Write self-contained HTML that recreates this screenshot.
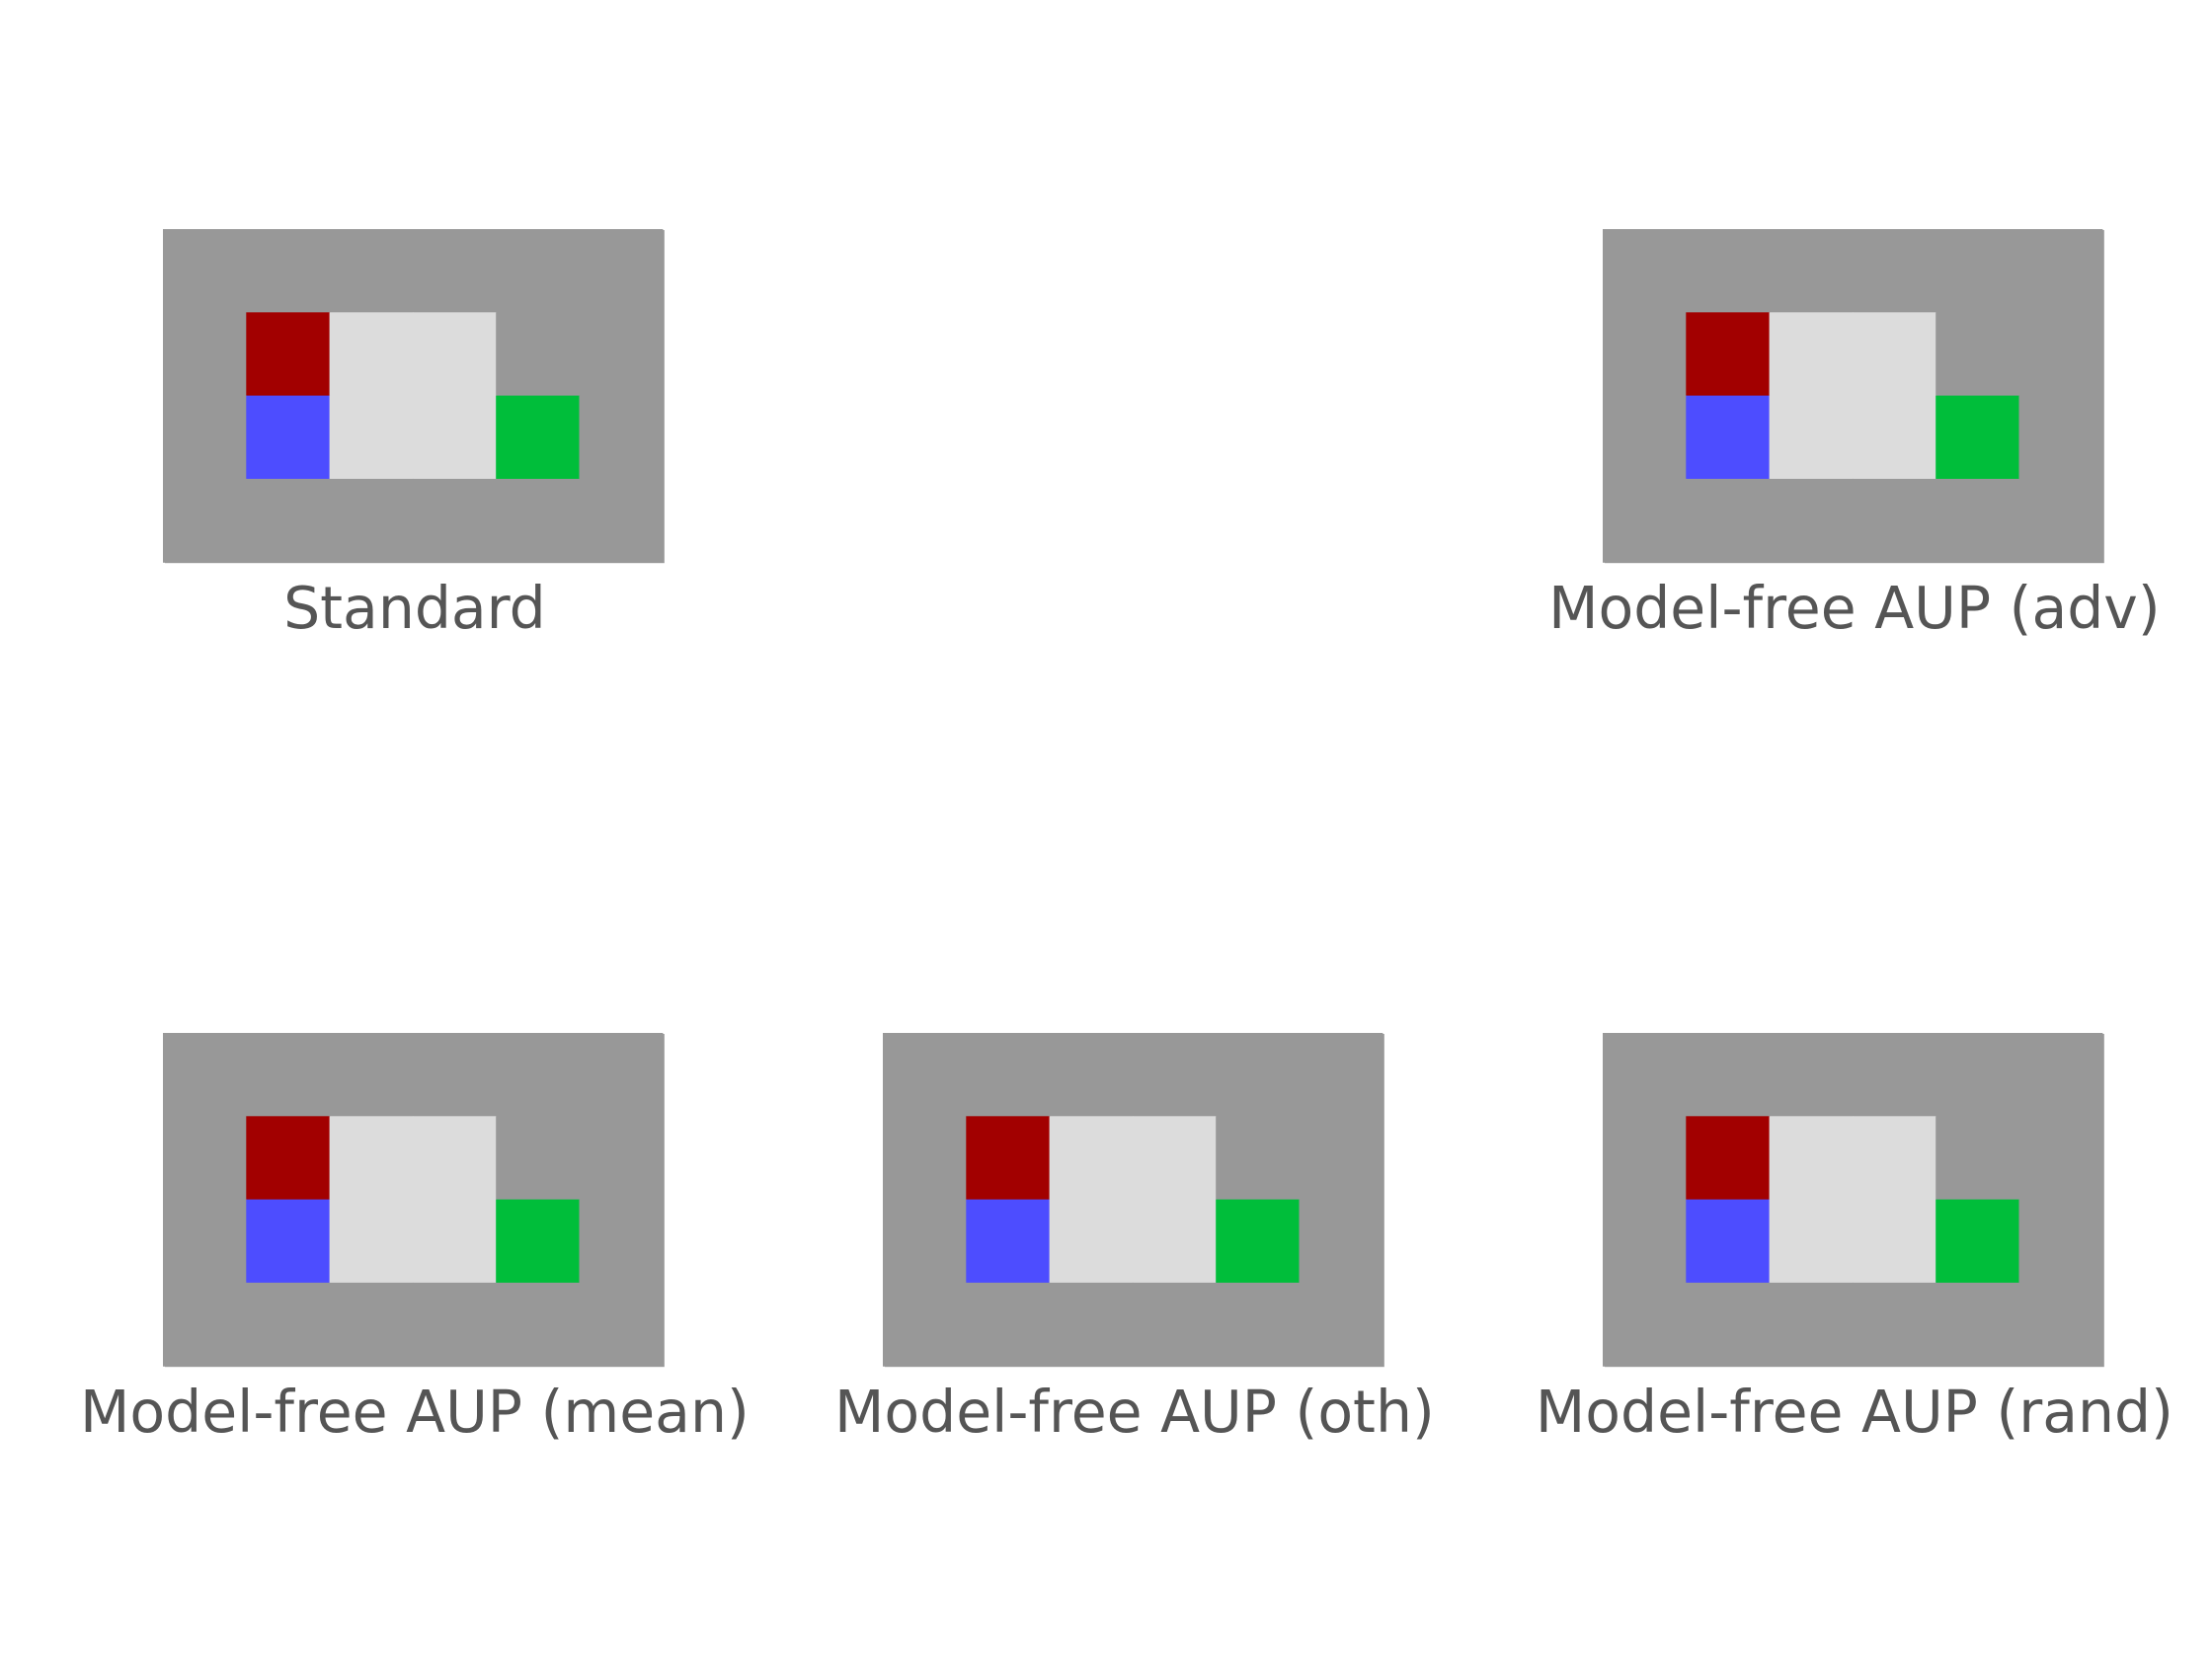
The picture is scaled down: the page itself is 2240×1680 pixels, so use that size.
<!DOCTYPE html>
<html><head><meta charset="utf-8"><style>
html,body{margin:0;padding:0;background:#fff;width:2240px;height:1680px;overflow:hidden}
text{font-family:"DejaVu Sans","Liberation Sans",sans-serif;fill:#555;font-size:58.4px}
</style></head><body>
<svg id="fig" width="2240" height="1680" viewBox="0 0 2240 1680" xmlns="http://www.w3.org/2000/svg"></svg>
<script>
const panelTitles = ["Standard","Model-free AUP (adv)","Model-free AUP (mean)","Model-free AUP (oth)","Model-free AUP (rand)"];
const panelCols = [0,2,0,1,2];
const panelRows = [0,0,1,1,1];
// grid codes: 0 wall, 1 floor, 2 agent(red), 3 box(blue), 4 goal(green)
const gridLayout = [
 [0,0,0,0,0,0],
 [0,2,1,1,0,0],
 [0,3,1,1,4,0],
 [0,0,0,0,0,0]
];
const palette = ["#989898","#dcdcdc","#a20000","#4d4dff","#00be3a"];
const svg = document.getElementById('fig');
const NS = "http://www.w3.org/2000/svg";
const cell = 84.3, colX = c => 167 + c*729, rowY = r => 233 + r*814;
panelTitles.forEach((t,i)=>{
  const g = document.createElementNS(NS,'g');
  
  
  const x0 = colX(panelCols[i]), y0 = rowY(panelRows[i]);
  gridLayout.forEach((row,r)=>row.forEach((v,c)=>{
    const rc = document.createElementNS(NS,'rect');
    rc.setAttribute('x', x0 + c*cell - 2); rc.setAttribute('y', y0 + r*cell - 1);
    rc.setAttribute('width', cell+0.6); rc.setAttribute('height', cell+0.6);
    rc.setAttribute('fill', palette[v]);
    
    
    g.appendChild(rc);
  }));
  const bg = document.createElementNS(NS,'rect');
  bg.setAttribute('x', x0); bg.setAttribute('y', y0);
  bg.setAttribute('width', 6*cell); bg.setAttribute('height', 4*cell);
  bg.setAttribute('fill', palette[0]);
  
  
  g.insertBefore(bg, g.firstChild);
  const tx = document.createElementNS(NS,'text');
  tx.setAttribute('x', x0 + 3*cell); tx.setAttribute('y', y0 + 4*cell + 66);
  tx.setAttribute('text-anchor','middle');
  tx.textContent = t;
  
  
  g.appendChild(tx);
  svg.appendChild(g);
});
</script>
</body></html>
